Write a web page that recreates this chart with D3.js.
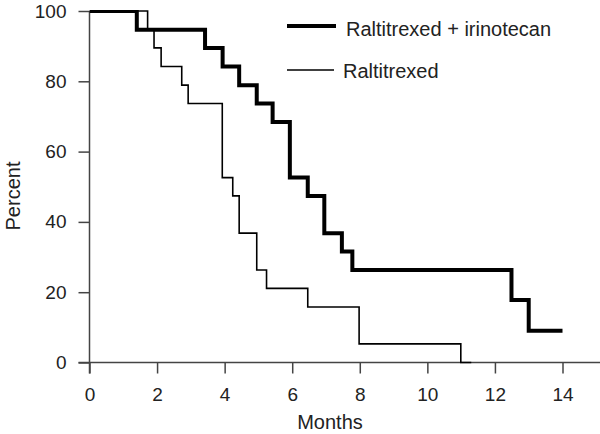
<!DOCTYPE html>
<html>
<head>
<meta charset="utf-8">
<script src="https://cdn.jsdelivr.net/npm/d3@7"></script>
<style>
  body { margin: 0; background: #fff; }
  svg { font-family: "Liberation Sans", Arial, Helvetica, sans-serif; }
  .tick text { fill: #222; }
</style>
</head>
<body>
<svg id="chart" width="600" height="434"></svg>
<script>
// Kaplan-Meier curves, months / percent
var comboTimes  = [0, 1.4, 3.42, 3.94, 4.43, 4.95, 5.42, 5.93, 6.46, 6.95, 7.47, 7.78, 12.49, 13.0, 14.0];
var comboValues = [100, 94.7, 89.5, 84.2, 78.9, 73.7, 68.4, 52.6, 47.4, 36.8, 31.6, 26.3, 17.8, 9.0, 9.0];
var raltTimes   = [0, 1.72, 1.91, 2.12, 2.73, 2.92, 3.93, 4.24, 4.43, 4.95, 5.24, 6.46, 7.98, 10.99, 11.3];
var raltValues  = [100, 94.7, 89.5, 84.2, 78.9, 73.7, 52.6, 47.4, 36.8, 26.3, 21.1, 15.8, 5.3, 0, 0];
var seriesNames = ["Raltitrexed + irinotecan", "Raltitrexed"];
var xTicks = [0, 2, 4, 6, 8, 10, 12, 14];
var yTicks = [0, 20, 40, 60, 80, 100];

var svg = d3.select("#chart");
var x = d3.scaleLinear().domain([0, 14]).range([89.5, 562.5]);
var y = d3.scaleLinear().domain([0, 100]).range([362.5, 11]);
var axisColor = "#444";

// clip so the 100% run sits on the top edge like the original
svg.append("clipPath").attr("id", "plotclip")
  .append("rect").attr("x", x(0)).attr("y", y(100) - 1)
  .attr("width", 600 - x(0)).attr("height", y(0) - y(100) + 4);

// x axis
var gx = svg.append("g").attr("transform", "translate(0," + y(0) + ")")
  .call(d3.axisBottom(x).tickValues(xTicks).tickSize(11).tickSizeOuter(0).tickPadding(14));
gx.select(".domain").remove();
gx.selectAll(".tick line").attr("stroke", axisColor).attr("stroke-width", 1.5);
gx.selectAll(".tick text").style("font-size", "19px");

// y axis
var gy = svg.append("g").attr("transform", "translate(" + x(0) + ",0)")
  .call(d3.axisLeft(y).tickValues(yTicks).tickSize(11).tickSizeOuter(0).tickPadding(12));
gy.select(".domain").remove();
gy.selectAll(".tick line").attr("stroke", axisColor).attr("stroke-width", 1.5);
gy.selectAll(".tick text").style("font-size", "19px");

// axis lines
svg.append("line").attr("x1", x(0) - 11).attr("x2", 600)
  .attr("y1", y(0)).attr("y2", y(0)).attr("stroke", axisColor).attr("stroke-width", 1.5);
svg.append("line").attr("x1", x(0)).attr("x2", x(0))
  .attr("y1", y(100)).attr("y2", y(0) + 11).attr("stroke", axisColor).attr("stroke-width", 1.5);

// curves
var step = d3.line()
  .x(function(d) { return x(d[0]); })
  .y(function(d) { return y(d[1]); })
  .curve(d3.curveStepAfter);

var raltPts = d3.zip(raltTimes, raltValues);
var comboPts = d3.zip(comboTimes, comboValues);

var plot = svg.append("g").attr("clip-path", "url(#plotclip)");
plot.append("path").datum(raltPts).attr("d", step)
  .attr("fill", "none").attr("stroke", "#000").attr("stroke-width", 1.6);
plot.append("path").datum(comboPts).attr("d", step)
  .attr("fill", "none").attr("stroke", "#000").attr("stroke-width", 4)
  .attr("stroke-linejoin", "miter");

// legend
var legend = [
  {name: seriesNames[0], w: 4, ly: 26, ty: 35.5, x2: 336, tx: 346},
  {name: seriesNames[1], w: 1.6, ly: 70, ty: 77.5, x2: 334, tx: 343}
];
legend.forEach(function(l) {
  svg.append("line").attr("x1", 287).attr("x2", l.x2).attr("y1", l.ly).attr("y2", l.ly)
    .attr("stroke", "#000").attr("stroke-width", l.w);
  svg.append("text").attr("x", l.tx).attr("y", l.ty)
    .style("font-size", "20px").attr("fill", "#222").text(l.name);
});

// axis titles
svg.append("text").attr("x", 330).attr("y", 429).attr("text-anchor", "middle")
  .style("font-size", "20px").attr("fill", "#222").text("Months");
svg.append("text").attr("transform", "translate(20,196) rotate(-90)")
  .attr("text-anchor", "middle").style("font-size", "20px").attr("fill", "#222").text("Percent");
</script>
</body>
</html>
